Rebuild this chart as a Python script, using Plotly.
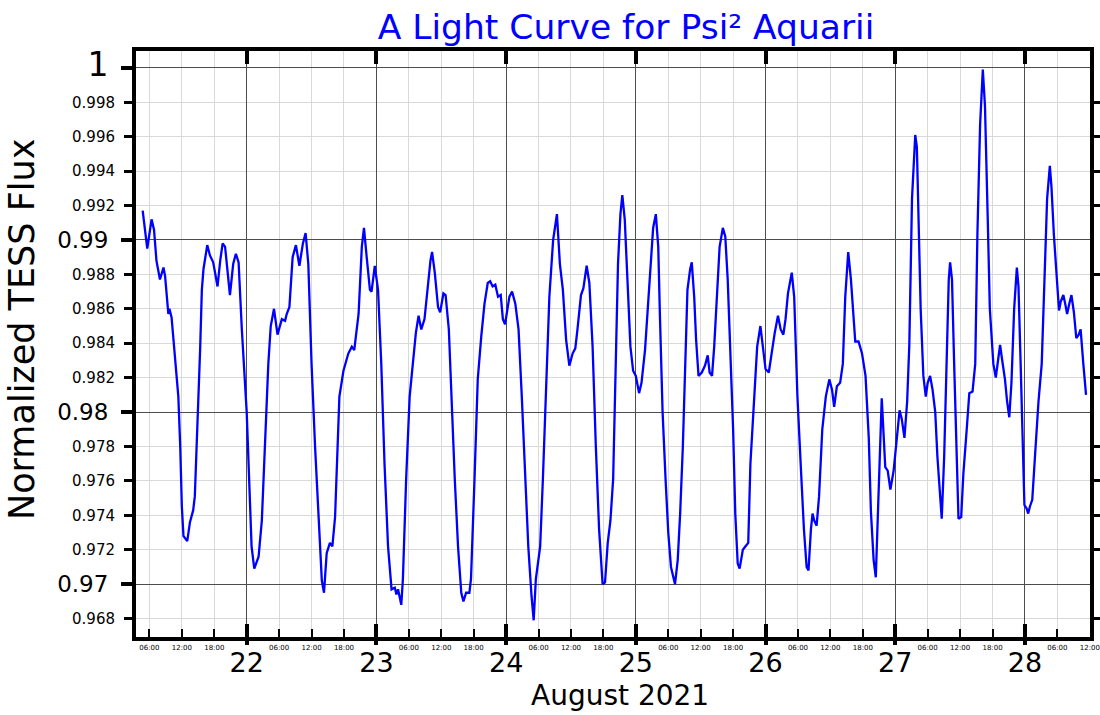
import pandas as pd
import plotly.graph_objects as go

# ---------------- data ----------------
START = "2021-08-21 00:00"
HOURS = [
    4.75, 5.6, 6.4, 6.85, 7.3, 7.95, 8.6, 8.9, 9.5, 9.7, 10.1, 10.7, 11.35, 11.7, 12.0, 12.3,
    13.0, 13.5, 14.1, 14.4, 14.75, 15.4, 15.7, 16.0, 16.7, 17.2, 17.8, 18.6, 19.1, 19.55, 20.0,
    20.4, 20.9, 21.5, 22.0, 22.5, 23.1, 24.0, 24.6, 24.9, 25.4, 26.2, 26.8, 27.4, 28.0, 28.45,
    29.05, 29.7, 30.5, 31.1, 31.4, 31.9, 32.5, 33.1, 33.75, 34.4, 34.9, 35.4, 36.0, 36.65, 37.25,
    37.9, 38.3, 38.8, 39.4, 39.85, 40.35, 41.15, 41.9, 42.8, 43.45, 43.9, 44.2, 44.7, 45.3, 45.7,
    46.2, 46.8, 47.1, 47.7, 48.3, 48.9, 49.5, 50.15, 50.8, 51.4, 51.7, 52.0, 52.6, 52.9, 53.5,
    54.15, 54.8, 55.3, 55.8, 56.3, 56.9, 57.5, 58.0, 58.3, 58.8, 59.4, 59.8, 60.4, 60.8, 61.4,
    61.85, 62.5, 63.1, 63.7, 64.1, 64.6, 65.2, 65.5, 66.15, 66.75, 67.4, 68.0, 68.6, 69.05, 69.5,
    70.0, 70.5, 71.0, 71.4, 71.8, 72.6, 73.1, 73.7, 74.3, 74.9, 75.5, 76.1, 76.7, 77.1, 77.5,
    77.85, 78.3, 78.8, 79.4, 80.0, 80.7, 81.4, 81.95, 82.5, 83.1, 83.7, 84.3, 84.8, 85.2, 85.85,
    86.3, 86.9, 87.4, 88.0, 88.6, 89.2, 89.85, 90.3, 90.8, 91.3, 91.8, 92.3, 92.7, 93.15, 93.5,
    93.95, 94.6, 95.0, 95.5, 96.0, 96.6, 97.05, 97.7, 98.3, 98.9, 99.2, 99.7, 100.15, 100.45,
    100.95, 101.5, 102.0, 102.5, 102.95, 103.25, 103.75, 104.2, 104.7, 105.1, 105.55, 106.05,
    106.35, 106.8, 107.15, 107.6, 108.2, 108.8, 109.3, 109.65, 110.1, 110.5, 111.0, 111.5, 112.1,
    112.55, 113.0, 113.5, 114.0, 114.4, 114.85, 115.2, 115.8, 116.3, 116.8, 117.2, 117.85,
    118.45, 119.05, 119.6, 120.0, 120.6, 121.1, 121.7, 122.3, 122.8, 123.3, 123.7, 124.15,
    124.85, 125.3, 125.9, 126.5, 127.1, 127.6, 127.95, 128.4, 128.7, 129.0, 129.45, 129.9,
    130.5, 131.15, 131.8, 132.3, 132.7, 133.2, 133.8, 134.3, 134.75, 135.3, 135.8, 136.4, 136.6,
    137.2, 137.85, 138.5, 139.1, 139.5, 140.0, 140.4, 140.9, 141.5, 142.15, 142.6, 143.1, 143.7,
    144.3, 144.8, 145.2, 145.7, 146.2, 146.6, 147.1, 147.7, 148.0, 148.3, 148.7, 149.2, 149.65,
    150.0, 150.45, 150.9, 151.4, 151.8, 152.2, 152.6, 153.05, 153.5, 153.9, 154.15, 154.5,
    154.9, 155.3, 155.7, 156.2, 156.6, 157.2, 157.7, 158.3, 158.8, 159.2, 159.7, 160.2, 160.6,
    161.1, 161.5, 162.15, 162.6, 163.1, 163.4, 163.7, 164.3, 164.7, 165.1, 165.5, 166.0, 166.5,
    166.8, 167.2, 167.6, 167.9, 168.3, 168.6, 168.9, 169.35, 169.85, 170.5, 171.1, 171.6, 172.1,
    172.6, 172.9, 173.35, 173.85, 174.3, 174.6, 175.1, 175.5, 175.8, 176.2, 176.6, 177.05,
    177.5, 177.95, 178.3, 178.8, 179.3,
]
FLUX = [
    .9917, .9895, .9912, .9906, .9888, .9877, .9884, .9879, .9857, .9860, .9855, .9834, .9809,
    .9780, .9745, .9728, .9725, .9736, .9743, .9751, .9780, .9838, .9871, .9883, .9897, .9891,
    .9887, .9873, .9888, .9898, .9896, .9883, .9868, .9886, .9892, .9887, .9848, .9800, .9751,
    .9722, .9709, .9716, .9737, .9780, .9828, .9850, .9860, .9845, .9854, .9853, .9857, .9861,
    .9890, .9897, .9885, .9898, .9904, .9886, .9828, .9780, .9741, .9702, .9695, .9718, .9724,
    .9722, .9739, .9809, .9824, .9834, .9838, .9836, .9844, .9857, .9896, .9907, .9890, .9871,
    .9870, .9885, .9871, .9828, .9770, .9722, .9697, .9698, .9694, .9697, .9688, .9703, .9761,
    .9809, .9830, .9846, .9856, .9848, .9854, .9873, .9888, .9893, .9881, .9861, .9858, .9869,
    .9868, .9848, .9809, .9761, .9722, .9695, .9690, .9695, .9695, .9703, .9761, .9819, .9844,
    .9863, .9875, .9876, .9873, .9874, .9867, .9868, .9854, .9851, .9867, .9870, .9863, .9848,
    .9809, .9761, .9722, .9693, .9679, .9703, .9712, .9722, .9761, .9819, .9867, .9900, .9915,
    .9886, .9871, .9842, .9827, .9834, .9837, .9848, .9868, .9872, .9885, .9875, .9838, .9780,
    .9732, .9700, .9701, .9724, .9737, .9761, .9828, .9886, .9915, .9926, .9912, .9867, .9838,
    .9824, .9821, .9811, .9817, .9836, .9867, .9896, .9907, .9915, .9896, .9857, .9800, .9761,
    .9730, .9710, .9703, .9700, .9714, .9741, .9780, .9828, .9871, .9883, .9887, .9867, .9842,
    .9821, .9823, .9827, .9833, .9823, .9821, .9838, .9867, .9896, .9907, .9902, .9877, .9838,
    .9790, .9741, .9712, .9709, .9720, .9722, .9724, .9770, .9809, .9838, .9850, .9836, .9825,
    .9823, .9834, .9846, .9856, .9848, .9845, .9854, .9869, .9881, .9867, .9809, .9770, .9732,
    .9710, .9708, .9732, .9741, .9737, .9734, .9751, .9790, .9809, .9819, .9813, .9803, .9815,
    .9817, .9828, .9867, .9893, .9877, .9850, .9841, .9841, .9834, .9821, .9785, .9742, .9714,
    .9704, .9753, .9808, .9768, .9766, .9755, .9766, .9785, .9801, .9796, .9785, .9806, .9839,
    .9924, .9961, .9954, .9920, .9860, .9821, .9809, .9817, .9821, .9813, .9800, .9774, .9753,
    .9738, .9774, .9839, .9877, .9887, .9877, .9828, .9785, .9738, .9739, .9764, .9789, .9811,
    .9812, .9828, .9903, .9967, .9999, .9978, .9914, .9860, .9828, .9820, .9832, .9839, .9832,
    .9819, .9806, .9797, .9817, .9860, .9884, .9873, .9828, .9785, .9746, .9744, .9741, .9745,
    .9749, .9774, .9806, .9828, .9871, .9924, .9943, .9931, .9903, .9877, .9859, .9864, .9868,
    .9862, .9857, .9863, .9868, .9858, .9843, .9845, .9848, .9828, .9810,
]
DAY_LABELS = ["22", "23", "24", "25", "26", "27", "28"]
MINOR_Y = [0.968, 0.972, 0.974, 0.976, 0.978, 0.982, 0.984, 0.986, 0.988,
           0.992, 0.994, 0.996, 0.998]
MAJOR_Y = [0.97, 0.98, 0.99, 1.0]
MAJOR_Y_TEXT = ["0.97", "0.98", "0.99", "<span style='font-size:33px'>1</span>"]
TITLE = "A Light Curve for Psi² Aquarii"
X_TITLE = "August 2021"
Y_TITLE = "Normalized TESS Flux"

# ---------------- build ----------------
times = pd.Timestamp(START) + pd.to_timedelta(HOURS, unit="h")
x_range = ["2021-08-21 03:31", "2021-08-28 12:02"]
y_range = [0.96693, 1.00098]

six_h = pd.date_range("2021-08-21 06:00", "2021-08-28 12:00", freq="6h")
minor_x = [d for d in six_h if d.hour != 0]
minor_x_text = [d.strftime("%H:%M") for d in minor_x]
major_x = list(pd.date_range("2021-08-22", "2021-08-28", freq="D"))

FONT = "DejaVu Sans"
BLUE = "#0000ff"
MINOR_GRID = "#d9d9d9"
MAJOR_GRID = "#4d4d4d"

fig = go.Figure()
fig.add_trace(go.Scatter(x=times, y=FLUX, mode="lines",
                         line=dict(color=BLUE, width=2.3),
                         showlegend=False, hoverinfo="x+y"))
# helper (empty) traces so the overlaid axes are drawn
fig.add_trace(go.Scatter(x=[], y=[], xaxis="x2", yaxis="y", showlegend=False))
fig.add_trace(go.Scatter(x=[], y=[], xaxis="x3", yaxis="y", showlegend=False))
fig.add_trace(go.Scatter(x=[], y=[], xaxis="x", yaxis="y2", showlegend=False))

fig.update_layout(
    width=1100, height=715,
    margin=dict(l=136, r=10, t=51, b=78, autoexpand=False),
    paper_bgcolor="white", plot_bgcolor="white",
    font=dict(family=FONT, color="black"),
    title=dict(text=TITLE, font=dict(size=34.5, color=BLUE, family=FONT),
               x=626 / 1100, xref="container", xanchor="center",
               y=1 - 27 / 715, yref="container", yanchor="middle"),
    xaxis=dict(type="date", range=x_range, tickmode="array",
               tickvals=minor_x, ticktext=minor_x_text, automargin=False,
               tickfont=dict(size=7), ticks="inside", ticklen=8, tickwidth=2,
               tickcolor="black", showgrid=True, gridcolor=MINOR_GRID, gridwidth=1,
               showline=True, linecolor="black", linewidth=4, mirror=True,
               zeroline=False, ticklabelstandoff=1),
    xaxis2=dict(type="date", range=x_range, overlaying="x", anchor="y", side="bottom",
                tickmode="array", tickvals=major_x, ticktext=DAY_LABELS, automargin=False,
                tickfont=dict(size=27), ticks="outside", ticklen=7, tickwidth=4,
                tickcolor="black", showgrid=True, gridcolor=MAJOR_GRID, gridwidth=1,
                showline=False, zeroline=False, ticklabelstandoff=-5),
    xaxis3=dict(type="date", range=x_range, overlaying="x", anchor="y", side="bottom",
                tickmode="array", tickvals=major_x, showticklabels=False, automargin=False,
                ticks="inside", ticklen=13, tickwidth=4, tickcolor="black",
                mirror="ticks", showgrid=False, showline=False, zeroline=False),
    yaxis=dict(range=y_range, tickmode="array", tickvals=MINOR_Y, automargin=False,
               ticktext=[f"{v:.3f}" for v in MINOR_Y], tickfont=dict(size=15),
               ticks="outside", ticklen=8, tickwidth=3, tickcolor="black",
               showgrid=True, gridcolor=MINOR_GRID, gridwidth=1,
               showline=True, linecolor="black", linewidth=4, mirror="ticks",
               zeroline=False, ticklabelstandoff=6),
    yaxis2=dict(range=y_range, overlaying="y", anchor="x", side="left", automargin=False,
                tickmode="array", tickvals=MAJOR_Y, ticktext=MAJOR_Y_TEXT,
                tickfont=dict(size=23), ticks="outside", ticklen=14, tickwidth=4,
                tickcolor="black", showgrid=True, gridcolor=MAJOR_GRID, gridwidth=1,
                showline=False, zeroline=False, ticklabelstandoff=8),
    annotations=[
        dict(text=Y_TITLE, textangle=-90, showarrow=False, font=dict(size=35),
             xref="paper", yref="paper", x=(22 - 136) / 954, y=(637 - 330) / 586,
             xanchor="center", yanchor="middle"),
        dict(text=X_TITLE, showarrow=False, font=dict(size=28),
             xref="paper", yref="paper", x=(620 - 136) / 954, y=(637 - 695) / 586,
             xanchor="center", yanchor="middle"),
    ],
)

fig.write_html("out.html", config={"displayModeBar": False},
               post_script="document.body.style.margin='0px';document.body.style.padding='0px';")
